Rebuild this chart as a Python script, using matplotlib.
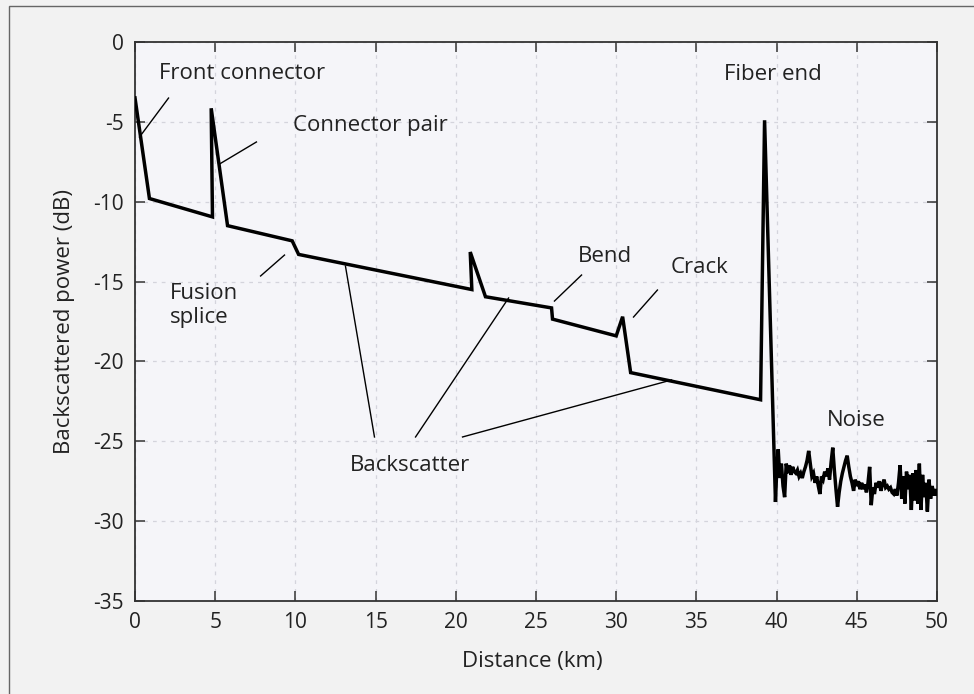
import numpy as np
import matplotlib
matplotlib.use("Agg")
import matplotlib.pyplot as plt
from matplotlib.patches import Rectangle

# OTDR trace: distance (km) and backscattered power (dB)
trace_km = [0.0, 0.9, 4.83, 4.75, 5.77, 9.8, 10.2, 21.0, 20.9, 21.85,
            25.97, 26.03, 30.0, 30.4, 30.9, 39.0, 39.25, 39.93]
trace_db = [-3.5, -9.8, -10.95, -4.15, -11.5, -12.45, -13.3, -15.5, -13.15, -15.95,
            -16.65, -17.35, -18.4, -17.2, -20.7, -22.4, -4.9, -28.8]

# noise floor after the fiber end, sampled every 0.1 km from 40 km
noise_start = 40.0
noise_step = 0.1
noise_db = [-27.0, -25.5, -27.3, -26.4, -27.8, -28.5, -26.4, -27.0, -26.5, -27.1,
            -26.6, -26.9, -27.0, -26.8, -27.2, -27.0, -27.3, -26.9, -26.6, -26.2,
            -25.6, -26.4, -27.2, -27.0, -27.6, -27.2, -27.8, -28.3, -27.2, -27.4,
            -26.9, -27.2, -26.7, -27.4, -26.3, -25.4, -26.8, -28.0, -29.1, -28.2,
            -27.5, -27.0, -26.6, -26.2, -25.9, -26.6, -27.2, -27.6, -28.1, -27.4,
            -27.8, -27.5, -28.0, -27.6, -28.0, -27.7, -28.2, -27.6, -26.6, -29.0,
            -27.9, -28.3, -27.6, -27.9, -27.5, -28.1, -27.7, -27.4, -27.9, -27.8,
            -28.0, -27.9, -28.2, -28.3, -28.0, -28.4, -27.6, -26.5, -28.6, -27.2,
            -28.9, -26.9, -28.0, -27.1, -29.3, -27.0, -28.7, -26.8, -28.9, -26.4,
            -29.3, -27.1, -28.5, -27.6, -29.4, -27.4, -28.6, -27.8, -28.4, -28.0,
            -28.3]

x_ticks = [0, 5, 10, 15, 20, 25, 30, 35, 40, 45, 50]
y_ticks = [0, -5, -10, -15, -20, -25, -30, -35]

# annotations: (text, text x, text y, leader lines)
labels = [
    ("Front connector", 6.67, -1.95, [((2.09, -3.51), (0.28, -5.95))]),
    ("Connector pair", 14.7, -5.2, [((7.57, -6.26), (5.27, -7.64))]),
    ("Bend", 29.27, -13.46, [((26.15, -16.22), (27.84, -14.59))]),
    ("Crack", 35.2, -14.15, [((31.08, -17.22), (32.57, -15.53))]),
    ("Fiber end", 39.75, -2.05, []),
    ("Noise", 44.98, -23.67, []),
    ("Backscatter", 17.17, -26.5, [((14.93, -24.73), (13.12, -14.03)),
                                   ((17.49, -24.73), (23.29, -16.03)),
                                   ((20.42, -24.73), (33.45, -21.16))]),
]
fusion_text = "Fusion\nsplice"
fusion_pos = (2.15, -16.5)
fusion_line = ((7.83, -14.65), (9.32, -13.34))

plt.rcParams['font.family'] = ['Open Sans', 'DejaVu Sans']
plt.rcParams['axes.unicode_minus'] = False
text_color = '#222222'

fig = plt.figure(figsize=(9.74, 6.94), dpi=100, facecolor='#f2f2f2')
ax = fig.add_axes([135 / 974, 1 - 601 / 694, 802 / 974, 559 / 694])
ax.set_facecolor('#f5f5f9')

# figure frame (left and top edges visible)
fig.add_artist(Rectangle((9 / 974, -0.2), 1.5, 1.2 - 6 / 694, transform=fig.transFigure,
                         fill=False, edgecolor='#666666', linewidth=1.0))

noise_km = [noise_start + i * noise_step for i in range(len(noise_db))]
ax.plot(trace_km + noise_km, trace_db + noise_db, color='black', linewidth=2.5,
        solid_joinstyle='miter', zorder=3)

for text, tx, ty, lines in labels:
    ax.text(tx, ty, text, ha='center', va='center', fontsize=16, color=text_color)
    for (x0, y0), (x1, y1) in lines:
        ax.plot([x0, x1], [y0, y1], color='black', linewidth=1.0, zorder=2)
ax.text(fusion_pos[0], fusion_pos[1], fusion_text, ha='left', va='center',
        fontsize=16, color=text_color, linespacing=1.2)
ax.plot([fusion_line[0][0], fusion_line[1][0]], [fusion_line[0][1], fusion_line[1][1]],
        color='black', linewidth=1.0, zorder=2)

ax.set_xlim(0, 50)
ax.set_ylim(-35, 0)
ax.set_xticks(x_ticks)
ax.set_yticks(y_ticks)
ax.grid(True, color='#d4d4dc', linestyle=(0, (3, 4)), linewidth=0.9)
ax.tick_params(direction='in', length=7, width=1.1, top=True, right=True,
               labelsize=15, labelcolor=text_color, color='#333333', pad=8)
for sp in ax.spines.values():
    sp.set_color('#333333')
    sp.set_linewidth(1.3)

ax.set_xlabel("Distance (km)", fontsize=16, color=text_color)
ax.set_ylabel("Backscattered power (dB)", fontsize=16, color=text_color)
ax.xaxis.set_label_coords(0.496, -0.09)
ax.yaxis.set_label_coords(-0.075, 0.5)

fig.savefig("out.png", dpi=100, facecolor=fig.get_facecolor())
